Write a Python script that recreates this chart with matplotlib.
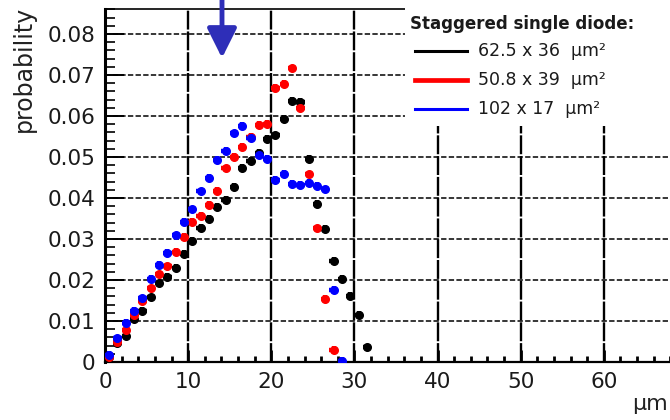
import matplotlib
matplotlib.use("Agg")
import matplotlib.pyplot as plt
from matplotlib.lines import Line2D
from matplotlib.patches import Rectangle
from matplotlib.ticker import MultipleLocator, FuncFormatter

# bin centres (um) and probability per bin
bin_centers = [0.5, 1.5, 2.5, 3.5, 4.5, 5.5, 6.5, 7.5, 8.5, 9.5, 10.5, 11.5,
               12.5, 13.5, 14.5, 15.5, 16.5, 17.5, 18.5, 19.5, 20.5, 21.5,
               22.5, 23.5, 24.5, 25.5, 26.5, 27.5, 28.5, 29.5, 30.5, 31.5]

prob_black = [0.0011, 0.0047, 0.0063, 0.0104, 0.0125, 0.0158, 0.0192, 0.0208,
              0.0230, 0.0263, 0.0295, 0.0327, 0.0350, 0.0379, 0.0395, 0.0428,
              0.0473, 0.0490, 0.0510, 0.0544, 0.0553, 0.0593, 0.0637, 0.0635,
              0.0495, 0.0385, 0.0324, 0.0246, 0.0202, 0.0161, 0.0115, 0.0036]

prob_red = [0.0013, 0.0050, 0.0078, 0.0114, 0.0150, 0.0180, 0.0214, 0.0233,
            0.0268, 0.0305, 0.0342, 0.0357, 0.0384, 0.0418, 0.0472, 0.0501,
            0.0525, 0.0550, 0.0578, 0.0581, 0.0668, 0.0679, 0.0716, 0.0620,
            0.0458, 0.0326, 0.0154, 0.0029]

prob_blue = [0.0017, 0.0058, 0.0096, 0.0125, 0.0155, 0.0202, 0.0237, 0.0267,
             0.0309, 0.0342, 0.0372, 0.0416, 0.0450, 0.0493, 0.0515, 0.0558,
             0.0576, 0.0546, 0.0505, 0.0496, 0.0444, 0.0459, 0.0434, 0.0432,
             0.0437, 0.0430, 0.0421, 0.0176, 0.0003]

legend_title = "Staggered single diode:"
legend_labels = ["62.5 x 36  \u03bcm\u00b2", "50.8 x 39  \u03bcm\u00b2", "102 x 17  \u03bcm\u00b2"]
series_colors = ["black", "#ff0000", "#0000ff"]

W, H = 670, 420


def fx(px):
    return px / W


def fy(py):
    return 1 - py / H


plt.rcParams["font.family"] = ["DejaVu Sans"]

fig = plt.figure(figsize=(6.7, 4.2), dpi=100)
ax = fig.add_axes([fx(105), fy(362), fx(687) - fx(105), fy(9) - fy(362)])

# grid (vertical lines look heavier in the original)
ax.set_axisbelow(True)
ax.xaxis.grid(True, which="major", color="black", lw=1.7, linestyle=(0, (8, 0.8)))
ax.yaxis.grid(True, which="major", color="black", lw=1.1, linestyle=(0, (3.5, 1.5)))

series = [prob_black, prob_red, prob_blue]
for vals, col in zip(series, series_colors):
    ax.errorbar(bin_centers[:len(vals)], vals, xerr=0.5, yerr=0.0009,
                fmt="o", ms=5.5, color=col, ecolor=col, elinewidth=3.2,
                capsize=0, zorder=3)

ax.set_xlim(0, 70)
ax.set_ylim(0, 0.0861)
ax.xaxis.set_major_locator(MultipleLocator(10))
ax.xaxis.set_minor_locator(MultipleLocator(2))
ax.yaxis.set_major_locator(MultipleLocator(0.01))
ax.yaxis.set_minor_locator(MultipleLocator(0.002))
ax.yaxis.set_major_formatter(FuncFormatter(lambda v, p: "0" if abs(v) < 1e-9 else "%.2f" % v))
ax.xaxis.set_major_formatter(FuncFormatter(lambda v, p: "%d" % v))

ax.tick_params(axis="both", which="both", direction="in", colors="black",
               labelcolor="#1a1a1a", labelsize=15.5, top=False, right=False)
ax.tick_params(axis="y", which="major", length=14, width=1.4, pad=7)
ax.tick_params(axis="y", which="minor", length=7, width=1.2)
ax.tick_params(axis="x", which="major", length=9, width=2, pad=7)
ax.tick_params(axis="x", which="minor", length=4.5, width=2)
ax.spines["left"].set_linewidth(2.2)
ax.spines["bottom"].set_linewidth(1.6)
ax.spines["top"].set_linewidth(1.2)

fig.text(fx(24), fy(69), "probability", rotation=90, ha="center", va="center",
         fontsize=17, color="#222222")
fig.text(fx(632), fy(404), "\u03bcm", ha="left", va="center", fontsize=16, color="#222222")

# legend box drawn by hand, as in the original layout
fig.patches.append(Rectangle((fx(405), fy(126)), fx(W) - fx(405), fy(0) - fy(126),
                             transform=fig.transFigure, facecolor="white",
                             edgecolor="none", zorder=5))
fig.text(fx(410), fy(24), legend_title, ha="left", va="center", fontsize=12,
         fontweight="bold", color="#1a1a1a", zorder=6)
line_widths = [2.2, 3.4, 2.2]
for i, (lab, col) in enumerate(zip(legend_labels, series_colors)):
    y = fy(51 + 29 * i)
    fig.lines.append(Line2D([fx(415), fx(467)], [y, y], transform=fig.transFigure,
                            color=col, lw=line_widths[i], zorder=6))
    fig.text(fx(478), y, lab, ha="left", va="center", fontsize=12.5,
             color="#1a1a1a", zorder=6)

# blue arrow pointing at the peak region
ax.annotate("", xy=(fx(222), fy(58)), xytext=(fx(222), fy(-2)),
            xycoords="figure fraction", textcoords="figure fraction",
            arrowprops=dict(arrowstyle="-|>,head_width=0.45,head_length=0.9",
                            lw=3.5, color="#2e2eb8", mutation_scale=20,
                            shrinkA=0, shrinkB=0))

fig.savefig("out.png", dpi=100)
